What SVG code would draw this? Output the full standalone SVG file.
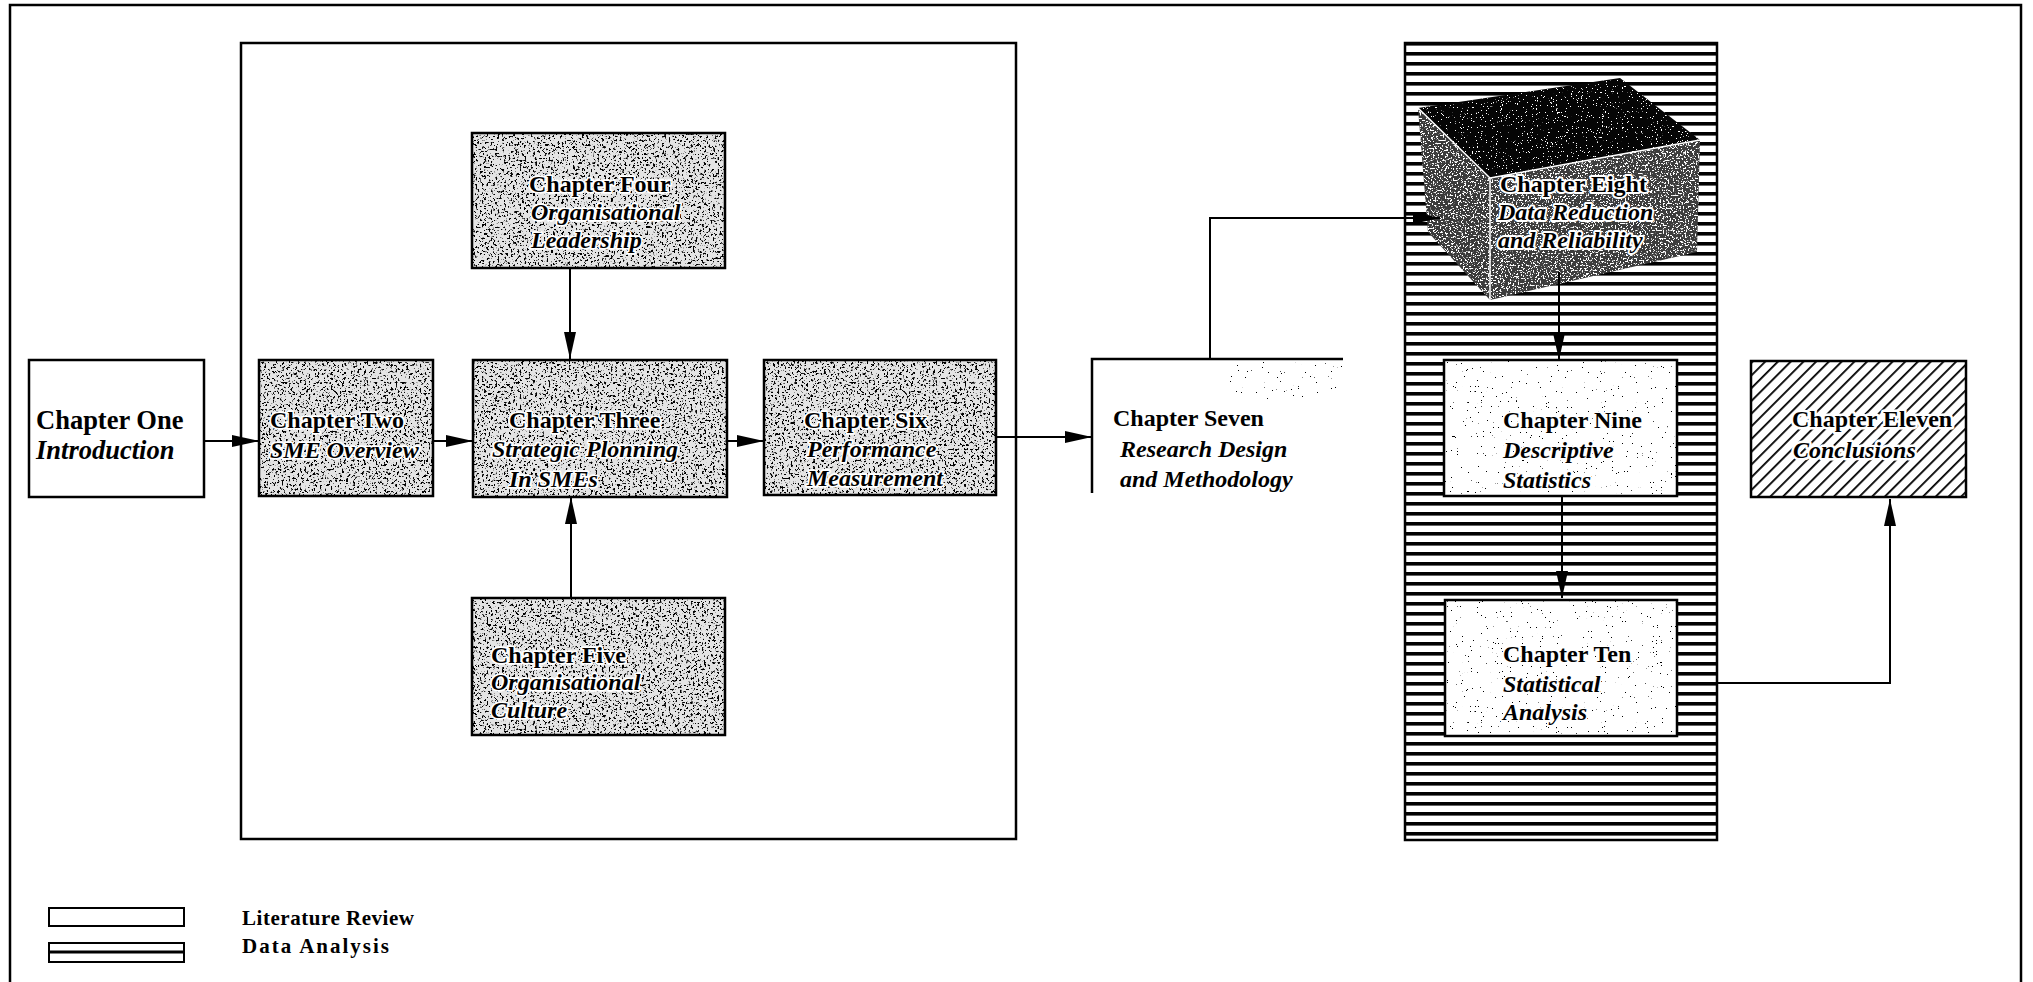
<svg xmlns="http://www.w3.org/2000/svg" width="2033" height="982" viewBox="0 0 2033 982">
<defs>
<style>
.box{fill:none;stroke:#000;stroke-width:2.5}
.t{font-family:"Liberation Serif","Times New Roman",serif;font-size:24px;font-weight:bold;fill:#000}
.big{font-size:26.5px}
.i{font-style:italic}
.halo{stroke:#fff;stroke-width:3.5;stroke-linejoin:round;paint-order:stroke}
.conn{fill:none;stroke:#000;stroke-width:2}
.leg{font-family:"Liberation Serif","Times New Roman",serif;font-size:21px;font-weight:bold;fill:#000}
.grey{fill:#e4e4e4;filter:url(#grainGrey)}
</style>
<marker id="ah" markerUnits="userSpaceOnUse" markerWidth="28" markerHeight="14" refX="27" refY="7" orient="auto" viewBox="0 0 28 14"><path d="M0,1 L27,7 L0,13 z" fill="#000"/></marker>
<pattern id="hstripe" patternUnits="userSpaceOnUse" x="0" y="42" width="20" height="10"><rect width="20" height="10" fill="#fff"/><rect y="0" width="20" height="3.6" fill="#000"/></pattern>
<pattern id="diag" patternUnits="userSpaceOnUse" width="9" height="9" patternTransform="rotate(45)"><rect width="9" height="9" fill="#fff"/><rect x="0" width="1.8" height="9" fill="#000"/></pattern>
<filter id="grainGrey" x="0" y="0" width="1" height="1" color-interpolation-filters="sRGB">
<feTurbulence type="fractalNoise" baseFrequency="0.45" numOctaves="3" seed="4" result="n"/>
<feColorMatrix in="n" type="matrix" values="0 0 0 0 0  0 0 0 0 0  0 0 0 0 0  12 0 0 0 -6.9" result="s"/>
<feComposite in="s" in2="SourceGraphic" operator="in" result="c"/>
<feMerge><feMergeNode in="SourceGraphic"/><feMergeNode in="c"/></feMerge>
</filter>
<filter id="grainSparse" x="0" y="0" width="1" height="1" color-interpolation-filters="sRGB">
<feTurbulence type="fractalNoise" baseFrequency="0.8" numOctaves="3" seed="11" result="n"/>
<feColorMatrix in="n" type="matrix" values="0 0 0 0 0  0 0 0 0 0  0 0 0 0 0  40 0 0 0 -30.5" result="s"/>
<feComposite in="s" in2="SourceGraphic" operator="in" result="c"/>
<feMerge><feMergeNode in="SourceGraphic"/><feMergeNode in="c"/></feMerge>
</filter>
<filter id="grainTop" x="0" y="0" width="1" height="1" color-interpolation-filters="sRGB">
<feTurbulence type="fractalNoise" baseFrequency="0.8" numOctaves="3" seed="9" result="n"/>
<feColorMatrix in="n" type="matrix" values="0 0 0 0 1  0 0 0 0 1  0 0 0 0 1  30 0 0 0 -20.5" result="s"/>
<feComposite in="s" in2="SourceGraphic" operator="in" result="c"/>
<feMerge><feMergeNode in="SourceGraphic"/><feMergeNode in="c"/></feMerge>
</filter>
<filter id="grainSide" x="0" y="0" width="1" height="1" color-interpolation-filters="sRGB">
<feTurbulence type="fractalNoise" baseFrequency="0.6" numOctaves="3" seed="5" result="n"/>
<feColorMatrix in="n" type="matrix" values="0 0 0 0 1  0 0 0 0 1  0 0 0 0 1  14 0 0 0 -7.9" result="s"/>
<feComposite in="s" in2="SourceGraphic" operator="in" result="c"/>
<feMerge><feMergeNode in="SourceGraphic"/><feMergeNode in="c"/></feMerge>
</filter>
</defs>

<rect width="2033" height="982" fill="#fff"/>

<g id="frame">
<path d="M10,990 L10,5 L2021,5 L2021,990" fill="none" stroke="#000" stroke-width="2.5"/>
</g>

<g id="literature-review-area">
<rect x="241" y="43" width="775" height="796" fill="none" stroke="#000" stroke-width="2.5"/>
</g>

<g id="data-analysis-area">
<rect x="1405" y="43" width="312" height="797" fill="url(#hstripe)" stroke="#000" stroke-width="2.5"/>
</g>

<g id="ch1">
<rect x="29" y="360" width="175" height="137" fill="#fff" class="box"/>
<text class="t big" x="36" y="429">Chapter One</text>
<text class="t i big" x="36" y="459">Introduction</text>
</g>

<g id="ch2">
<rect x="259" y="360" width="174" height="136" class="grey"/>
<rect x="259" y="360" width="174" height="136" class="box"/>
<text class="t halo" x="270" y="428">Chapter Two</text>
<text class="t i halo" x="270" y="458">SME Overview</text>
</g>

<g id="ch3">
<rect x="473" y="360" width="254" height="137" class="grey"/>
<rect x="473" y="360" width="254" height="137" class="box"/>
<text class="t halo" x="509" y="428">Chapter Three</text>
<text class="t i halo" x="492" y="457">Strategic Plonning</text>
<text class="t i halo" x="509" y="487">In SMEs</text>
</g>

<g id="ch4">
<rect x="472" y="133" width="253" height="135" class="grey"/>
<rect x="472" y="133" width="253" height="135" class="box"/>
<text class="t halo" x="529" y="192">Chapter Four</text>
<text class="t i halo" x="531" y="220">Organisational</text>
<text class="t i halo" x="531" y="248">Leadership</text>
</g>

<g id="ch5">
<rect x="472" y="598" width="253" height="137" class="grey"/>
<rect x="472" y="598" width="253" height="137" class="box"/>
<text class="t halo" x="491" y="663">Chapter Five</text>
<text class="t i halo" x="491" y="690">Organisational</text>
<text class="t i halo" x="491" y="718">Culture</text>
</g>

<g id="ch6">
<rect x="764" y="360" width="232" height="135" class="grey"/>
<rect x="764" y="360" width="232" height="135" class="box"/>
<text class="t halo" x="804" y="428">Chapter Six</text>
<text class="t i halo" x="807" y="457">Performance</text>
<text class="t i halo" x="807" y="486">Measurement</text>
</g>

<g id="ch7">
<rect x="1230" y="362" width="112" height="38" fill="#fff" filter="url(#grainSparse)"/>
<path d="M1092,493 L1092,359 L1343,359" fill="none" stroke="#000" stroke-width="2.5"/>
<text class="t" x="1113" y="426">Chapter Seven</text>
<text class="t i" x="1120" y="457">Research Design</text>
<text class="t i" x="1120" y="487">and Methodology</text>
</g>

<g id="ch8">
<polygon points="1418,108 1620,78 1700,140 1490,178" fill="#050505" filter="url(#grainTop)"/>
<polygon points="1418,108 1490,178 1490,300 1428,232" fill="#3a3a3a" filter="url(#grainSide)"/>
<polygon points="1490,178 1700,140 1697,252 1490,300" fill="#3c3c3c" filter="url(#grainSide)"/>
<path d="M1418,108 L1490,178 L1490,300 M1490,178 L1700,140" fill="none" stroke="#fff" stroke-width="1.5"/>
<text class="t halo" x="1500" y="192" style="stroke-width:4">Chapter Eight</text>
<text class="t i halo" x="1498" y="220" style="stroke-width:4">Data Reduction</text>
<text class="t i halo" x="1498" y="248" style="stroke-width:4">and Reliability</text>
</g>

<g id="ch9">
<rect x="1444" y="360" width="233" height="136" fill="#fff" filter="url(#grainSparse)"/>
<rect x="1444" y="360" width="233" height="136" class="box"/>
<text class="t halo" x="1503" y="428">Chapter Nine</text>
<text class="t i halo" x="1503" y="458">Descriptive</text>
<text class="t i halo" x="1503" y="488">Statistics</text>
</g>

<g id="ch10">
<rect x="1445" y="600" width="232" height="136" fill="#fff" filter="url(#grainSparse)"/>
<rect x="1445" y="600" width="232" height="136" class="box"/>
<text class="t halo" x="1503" y="662">Chapter Ten</text>
<text class="t i halo" x="1503" y="692">Statistical</text>
<text class="t i halo" x="1503" y="720">Analysis</text>
</g>

<g id="ch11">
<rect x="1751" y="361" width="215" height="136" class="box" style="fill:url(#diag)"/>
<text class="t halo" x="1792" y="427" style="stroke-width:5">Chapter Eleven</text>
<text class="t i halo" x="1793" y="458" style="stroke-width:5">Conclusions</text>
</g>

<g id="connectors">
<path class="conn" d="M204,441 L259,441" marker-end="url(#ah)"/>
<path class="conn" d="M433,441 L473,441" marker-end="url(#ah)"/>
<path class="conn" d="M727,441 L764,441" marker-end="url(#ah)"/>
<path class="conn" d="M996,437 L1092,437" marker-end="url(#ah)"/>
<path class="conn" d="M570,268 L570,359" marker-end="url(#ah)"/>
<path class="conn" d="M571,598 L571,497" marker-end="url(#ah)"/>
<path class="conn" d="M1210,359 L1210,218 L1440,218" marker-end="url(#ah)"/>
<path class="conn" d="M1559,272 L1559,360" marker-end="url(#ah)"/>
<path class="conn" d="M1562,496 L1562,598" marker-end="url(#ah)"/>
<path class="conn" d="M1717,683 L1890,683 L1890,499" marker-end="url(#ah)"/>
</g>

<g id="legend">
<rect x="49" y="908" width="135" height="18" fill="#fff" stroke="#000" stroke-width="2"/>
<rect x="49" y="943" width="135" height="19" fill="#fff" stroke="#000" stroke-width="2"/>
<line x1="49" y1="952" x2="184" y2="952" stroke="#000" stroke-width="3"/>
<text class="leg" x="242" y="925" textLength="172" lengthAdjust="spacing">Literature Review</text>
<text class="leg" x="242" y="953" textLength="147" lengthAdjust="spacing">Data Analysis</text>
</g>
</svg>
